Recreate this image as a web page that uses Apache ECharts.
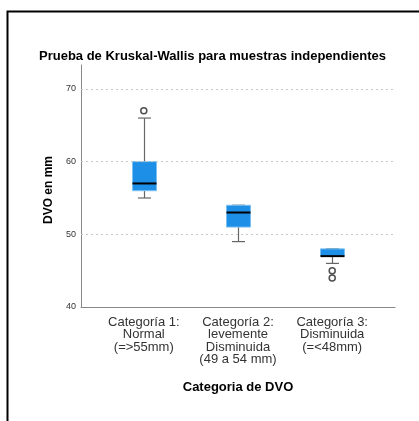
<!DOCTYPE html>
<html><head><meta charset="utf-8">
<script src="https://cdn.jsdelivr.net/npm/echarts@6/dist/echarts.min.js"></script>
<style>html,body{margin:0;padding:0;background:#fff}#c{width:419px;height:421px}</style>
</head><body><div id="c"></div>
<script>
const categories = ['Categoría 1:\nNormal\n(=>55mm)', 'Categoría 2:\nlevemente\nDisminuida\n(49 a 54 mm)', 'Categoría 3:\nDisminuida\n(=<48mm)'];
const categoryPos = [1, 2, 3];
const whiskerLow = [55, 49, 46];
const q1 = [56, 51, 47];
const median = [57, 53, 47];
const q3 = [60, 54, 48];
const whiskerHigh = [66, 54, 48];
const outlierCat = [1, 3, 3];
const outlierVal = [67, 45, 44];
const yTicks = [40, 50, 60, 70];
const gridValues = [50, 60, 70];

const boxData = categoryPos.map((c, i) => [c, whiskerLow[i], q1[i], median[i], q3[i], whiskerHigh[i]]);
const outData = outlierCat.map((c, i) => [c, outlierVal[i]]);

const chart = echarts.init(document.getElementById('c'), null, {renderer: 'canvas'});
const BOXW = 24, CAPW = 13;
chart.setOption({
  animation: false,
  backgroundColor: '#fff',
  textStyle: {fontFamily: 'Liberation Sans, Arial, sans-serif'},
  title: {
    text: 'Prueba de Kruskal-Wallis para muestras independientes',
    left: 34, top: 45,
    textStyle: {fontSize: 13, fontWeight: 'bold', color: '#000', fontFamily: 'Liberation Sans, Arial, sans-serif'}
  },
  graphic: [{
    type: 'rect', left: 5, top: 9, silent: true,
    shape: {width: 430, height: 430},
    style: {fill: 'none', stroke: '#000', lineWidth: 2}
  }],
  grid: {left: 81, right: 24, top: 65, bottom: 114, containLabel: false},
  xAxis: {
    type: 'value', min: 1/3, max: 11/3,
    name: 'Categoria de DVO', nameLocation: 'middle', nameGap: 74,
    nameTextStyle: {fontSize: 13, fontWeight: 'bold', color: '#000'},
    axisLine: {show: true, lineStyle: {color: '#888', width: 1}},
    axisTick: {show: false},
    splitLine: {show: false},
    axisLabel: {
      customValues: categoryPos,
      formatter: v => categories[Math.round(v) - 1] || '',
      fontSize: 13, color: '#333', lineHeight: 12.5, margin: 9, align: 'center'
    }
  },
  yAxis: {
    type: 'value', min: 40, max: 73.3,
    name: 'DVO en mm', nameLocation: 'middle', nameGap: 26, nameRotate: 90,
    nameTextStyle: {fontSize: 12, fontWeight: 'bold', color: '#000', padding: [0, 8, 0, 0]},
    axisLine: {show: true, lineStyle: {color: '#888', width: 1}},
    axisTick: {show: false},
    splitLine: {show: false},
    axisLabel: {customValues: yTicks, fontSize: 9, color: '#333', margin: 5}
  },
  series: [{
    type: 'custom',
    data: boxData,
    z: 3,
    markLine: {
      silent: true, symbol: 'none', label: {show: false},
      lineStyle: {color: '#c8c8c8', type: [2, 3], width: 1},
      data: gridValues.map(v => ({yAxis: v}))
    },
    renderItem: function (params, api) {
      const x = api.value(0);
      const lo = api.coord([x, api.value(1)]);
      const b1 = api.coord([x, api.value(2)]);
      const md = api.coord([x, api.value(3)]);
      const b3 = api.coord([x, api.value(4)]);
      const hi = api.coord([x, api.value(5)]);
      const cx = Math.round(lo[0]) + 0.5;
      const gray = {stroke: '#666', lineWidth: 1.2};
      return {
        type: 'group',
        children: [
          {type: 'line', shape: {x1: cx, y1: hi[1], x2: cx, y2: b3[1]}, style: gray},
          {type: 'line', shape: {x1: cx, y1: b1[1], x2: cx, y2: lo[1]}, style: gray},
          {type: 'line', shape: {x1: cx - CAPW/2, y1: hi[1], x2: cx + CAPW/2, y2: hi[1]}, style: gray},
          {type: 'line', shape: {x1: cx - CAPW/2, y1: lo[1], x2: cx + CAPW/2, y2: lo[1]}, style: gray},
          {type: 'rect', shape: {x: cx - BOXW/2, y: b3[1], width: BOXW, height: b1[1] - b3[1]},
           style: {fill: '#1e8fe6', stroke: '#7cc0f2', lineWidth: 1}},
          {type: 'line', shape: {x1: cx - BOXW/2, y1: md[1], x2: cx + BOXW/2, y2: md[1]},
           style: {stroke: '#000', lineWidth: 2}}
        ]
      };
    }
  }, {
    type: 'scatter',
    data: outData,
    symbol: 'circle', symbolSize: 6,
    itemStyle: {color: '#fff', borderColor: '#222', borderWidth: 1.5},
    z: 4
  }]
});
</script></body></html>
